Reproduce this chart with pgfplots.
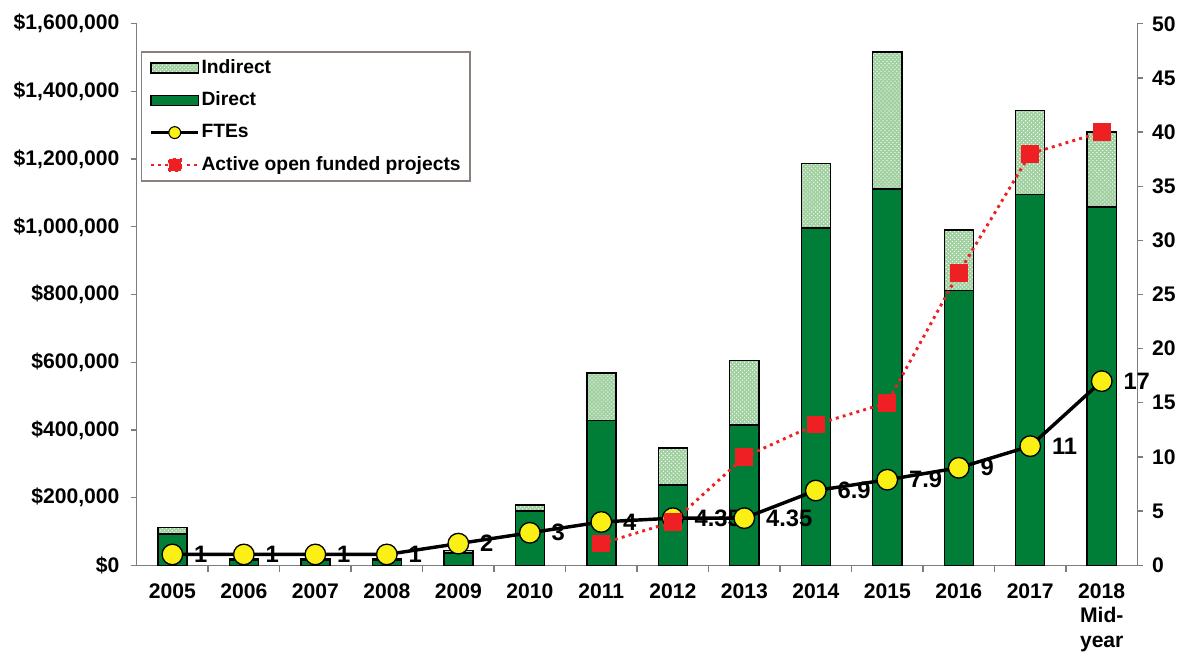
\documentclass[border=0pt]{standalone}
\usepackage{fontspec}
\setmainfont{Liberation Sans}
\usepackage{pgfplots}
\pgfplotsset{compat=1.18}
\usetikzlibrary{patterns}
\definecolor{directgreen}{RGB}{0,125,55}
\definecolor{indgreen}{RGB}{160,208,160}
\definecolor{axisgray}{RGB}{125,125,125}
\definecolor{legendgray}{RGB}{140,128,124}
\definecolor{pred}{RGB}{238,32,36}
\definecolor{fyellow}{RGB}{250,240,20}

\pgfplotstableread{
x direct indirect
0 93000 19000
1 16000 2000
2 16000 2000
3 16000 2000
4 36000 8000
5 161000 17000
6 427000 141000
7 237000 109000
8 415000 190000
9 997000 190000
10 1112000 404000
11 812000 179000
12 1095000 248000
13 1058000 222000
}\costs

\pgfplotstableread{
x fte lab
0 1 1
1 1 1
2 1 1
3 1 1
4 2 2
5 3 3
6 4 4
7 4.35 4.35
8 4.35 4.35
9 6.9 6.9
10 7.9 7.9
11 9 9
12 11 11
13 17 17
}\ftes

\pgfplotstableread{
x proj
6 2
7 4
8 10
9 13
10 15
11 27
12 38
13 40
}\projects

\begin{document}
\begin{tikzpicture}
\begin{axis}[
  scale only axis, width=758.25pt, height=410.25pt,
  xmin=-0.5, xmax=13.5, ymin=0, ymax=1600000,
  axis x line*=bottom, axis y line*=left,
  axis line style={axisgray, line width=1pt},
  every tick/.style={axisgray, line width=1pt},
  tick align=outside,
  ybar stacked, bar width=22pt,
  xtick={0,...,13},
  xticklabels={2005,2006,2007,2008,2009,2010,2011,2012,2013,2014,2015,2016,2017,{2018\\Mid-\\year}},
  major x tick style={draw=none},
  minor xtick={0.5,1.5,...,12.5},
  minor tick length=5.25pt,
  major tick length=4.5pt,
  xticklabel style={font=\fontsize{16}{18.5}\selectfont\bfseries, align=center, anchor=north, yshift=-6pt},
  ytick={0,200000,...,1600000},
  yticklabels={{\$0},{\$200,000},{\$400,000},{\$600,000},{\$800,000},{\$1,000,000},{\$1,200,000},{\$1,400,000},{\$1,600,000}},
  scaled y ticks=false,
  yticklabel style={font=\fontsize{16}{20}\selectfont\bfseries, anchor=east, xshift=-5pt},
  clip=false,
]
\addplot[fill=directgreen, draw=black, line width=1.1pt] table[x=x, y=direct] {\costs};
\addplot[fill=indgreen, draw=black, line width=1.1pt, postaction={pattern=crosshatch dots, pattern color=white}] table[x=x, y=indirect] {\costs};
\end{axis}

\begin{axis}[
  scale only axis, width=758.25pt, height=410.25pt,
  xmin=-0.5, xmax=13.5, ymin=0, ymax=50,
  axis x line=none, axis y line*=right,
  axis line style={axisgray, line width=1pt},
  every tick/.style={axisgray, line width=1pt},
  tick align=outside, major tick length=4.5pt,
  ytick={0,5,...,50},
  yticklabel style={font=\fontsize{16}{20}\selectfont\bfseries, anchor=west, xshift=3pt},
  /pgf/number format/assume math mode=true,
  clip=false,
  legend style={at={(0.004,0.949)}, anchor=north west, draw=legendgray, line width=1.1pt, fill=white,
    font=\fontsize{14.6}{17}\selectfont\bfseries, inner xsep=6pt, inner ysep=4pt, row sep=8.5pt,
    nodes={inner sep=1pt, text height=11pt, text depth=3pt}},
  legend cell align=left,
]
\addlegendimage{legend image code/.code={\draw[fill=indgreen, draw=black, line width=1.1pt, postaction={pattern=crosshatch dots, pattern color=white}] (0pt,-3.8pt) rectangle (36pt,3.8pt);}}
\addlegendentry{Indirect}
\addlegendimage{legend image code/.code={\draw[fill=directgreen, draw=black, line width=1.1pt] (0pt,-3.8pt) rectangle (36pt,3.8pt);}}
\addlegendentry{Direct}
\addplot[black, line width=2.6pt, mark=*, mark size=7.8pt, mark options={fill=fyellow, draw=black, line width=1pt},
  nodes near coords={\pgfplotspointmeta}, point meta=explicit symbolic,
  every node near coord/.append style={anchor=west, xshift=16pt, inner sep=0pt, font=\fontsize{18}{20}\selectfont\bfseries, text=black},
  legend image code/.code={\draw[black, line width=2.6pt] (0pt,0pt) -- (36pt,0pt); \draw[fill=fyellow, draw=black, line width=0.8pt] (18pt,0pt) circle (4.5pt);}]
  table[x=x, y=fte, meta=lab] {\ftes};
\addlegendentry{FTEs}
\addplot[pred, line width=2.2pt, dash pattern=on 2.2pt off 3.2pt, mark=square*, mark size=5.6pt, mark options={solid, fill=pred, draw=none},
  legend image code/.code={\draw[pred, line width=2.2pt, dash pattern=on 2.2pt off 3.2pt] (0pt,0pt) -- (36pt,0pt); \fill[pred] (14pt,-4.2pt) rectangle (22.4pt,4.2pt);}]
  table[x=x, y=proj] {\projects};
\addlegendentry{Active open funded projects}
\end{axis}
\pgfresetboundingbox
\useasboundingbox (-103.5pt,-68.25pt) rectangle (794.25pt,428.25pt);
\end{tikzpicture}
\end{document}
